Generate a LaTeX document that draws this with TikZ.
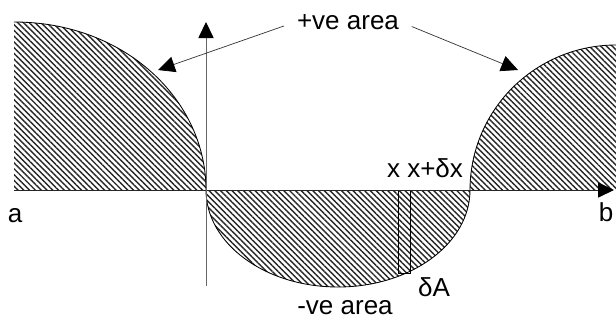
\documentclass[tikz,border=0pt]{standalone}
\usepackage{fontspec}
\setmainfont{Liberation Sans}
\usetikzlibrary{arrows.meta,patterns.meta}

\begin{document}
\begin{tikzpicture}[
  x=0.025cm, y=-0.025cm,
  lbl/.style={inner sep=1pt, font=\fontsize{18.5}{20}\selectfont},
  hatched/.style={
    pattern={Lines[angle=-45,distance=2.9pt,line width=1pt]},
    pattern color=black!85
  },
  curve/.style={draw=black, line width=0.6pt},
  axisline/.style={draw=black!60, line width=0.7pt, -{Triangle[length=0.4cm,width=0.38cm,color=black]}},
  pointer/.style={draw=black!80, line width=0.5pt, -{Triangle[length=0.42cm,width=0.4cm,color=black]}}
]
\useasboundingbox (0,0) rectangle (616,322);

% hatched areas
\fill[hatched] (14,190) -- (14,22) .. controls (125,22) and (206,100) .. (206,190) -- cycle;
\fill[hatched] (206,190) arc[start angle=180, end angle=0, x radius=132, y radius=97] -- cycle;
\fill[hatched] (470,190) arc[start angle=180, end angle=280, x radius=146, y radius=145]
  -- (640,40) -- (640,190) -- cycle;

% boundary curves
\draw[curve] (14,22) .. controls (125,22) and (206,100) .. (206,190);
\draw[curve] (206,190) arc[start angle=180, end angle=0, x radius=132, y radius=97];
\draw[curve] (470,190) arc[start angle=180, end angle=280, x radius=146, y radius=145];
\draw[curve, line width=0.5pt] (398,190) rectangle (410,273);

% axes
\coordinate (xa) at (14,190);
\coordinate (xb) at (614,190);
\coordinate (ya) at (206,286);
\coordinate (yb) at (206,22);
\draw[axisline, draw=black!85] (xa) -- (xb);
\draw[axisline] (ya) -- (yb);

% labels
\node[lbl] (a) at (15,216) {a};
\node[lbl] (b) at (606,212) {b};
\node[lbl] (pos) at (348,22) {+ve area};
\node[lbl] (neg) at (345,308) {-ve area};
\node[lbl] (xdx) at (425,168) {x x+δx};
\node[lbl] (dA) at (434,287) {δA};

% pointers to the positive areas
\coordinate (tipl) at (158,70);
\coordinate (tipr) at (518,70);
\draw[pointer, shorten <=0.3cm] (pos.west) -- (tipl);
\draw[pointer, shorten <=0.3cm] (pos.east) -- (tipr);
\end{tikzpicture}
\end{document}
